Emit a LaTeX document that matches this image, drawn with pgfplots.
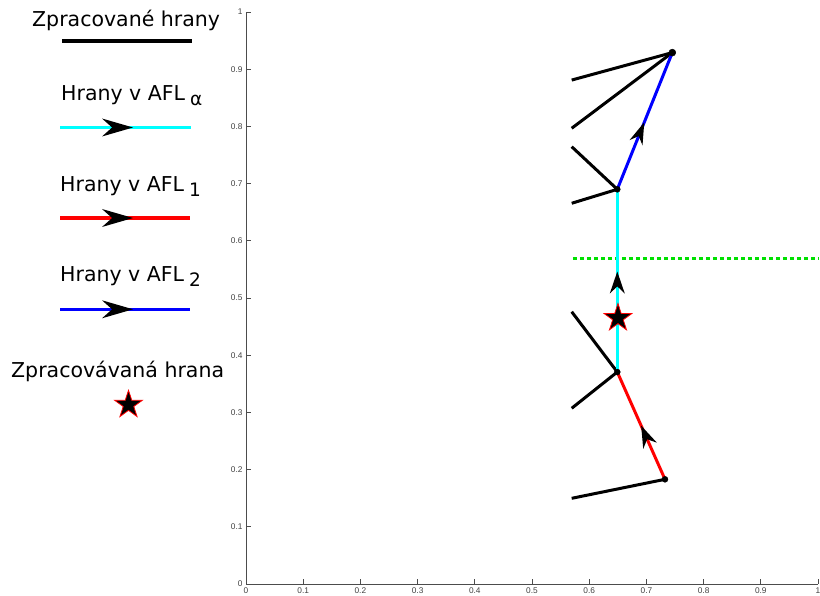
\documentclass[border=0pt]{standalone}
\usepackage{fontspec}
\setmainfont{DejaVu Sans}
\newfontfamily\tickfont{Liberation Sans}
\usepackage{pgfplots}
\pgfplotsset{compat=1.18}
\usetikzlibrary{arrows.meta,decorations.markings}

\definecolor{afla}{rgb}{0,1,1}
\definecolor{sweep}{rgb}{0,0.88,0}

% filled five-pointed star marker
\pgfdeclareplotmark{pentagram}{%
  \pgfpathmoveto{\pgfpointpolar{90}{\pgfplotmarksize}}%
  \pgfpathlineto{\pgfpointpolar{126}{0.382\pgfplotmarksize}}%
  \pgfpathlineto{\pgfpointpolar{162}{\pgfplotmarksize}}%
  \pgfpathlineto{\pgfpointpolar{198}{0.382\pgfplotmarksize}}%
  \pgfpathlineto{\pgfpointpolar{234}{\pgfplotmarksize}}%
  \pgfpathlineto{\pgfpointpolar{270}{0.382\pgfplotmarksize}}%
  \pgfpathlineto{\pgfpointpolar{306}{\pgfplotmarksize}}%
  \pgfpathlineto{\pgfpointpolar{342}{0.382\pgfplotmarksize}}%
  \pgfpathlineto{\pgfpointpolar{18}{\pgfplotmarksize}}%
  \pgfpathlineto{\pgfpointpolar{54}{0.382\pgfplotmarksize}}%
  \pgfpathclose
  \pgfusepathqfillstroke}

\newcommand\legfont{\fontsize{20.5}{24}\selectfont}
\newcommand\sub[1]{\hspace{5pt}\raisebox{-5pt}{\fontsize{18.5}{20}\selectfont #1}}

\tikzset{
  midarrow/.style n args={3}{postaction={decorate,decoration={markings,
      mark=at position #1 with {\arrow{Stealth[black,length=#2,width=#3,line width=0pt]}}}}},
}

\begin{document}
\begin{tikzpicture}
\path[use as bounding box] (0pt,0pt) rectangle (820pt,596pt);

% graph of processed edges
\begin{axis}[
  at={(246pt,12pt)}, anchor=south west,
  scale only axis, width=572pt, height=572pt,
  xmin=0, xmax=1, ymin=0, ymax=1,
  axis lines=left,
  axis line style={-, black!70, line width=0.7pt},
  tick style={black!70, line width=0.7pt},
  tick align=inside, major tick length=5pt,
  xtick={0,0.1,0.2,0.3,0.4,0.5,0.6,0.7,0.8,0.9,1},
  ytick={0,0.1,0.2,0.3,0.4,0.5,0.6,0.7,0.8,0.9,1},
  tick label style={font=\tickfont\fontsize{8.3}{9}\selectfont, text=black!75},
  /pgf/number format/assume math mode=true,
  clip=false,
]
% sweep line
\addplot[sweep, line width=3pt, dash pattern=on 4pt off 3pt]
  coordinates {(0.5716,0.5694) (1.0,0.5694)};

% processed edges
\addplot[black, line width=3pt] coordinates {(0.5694,0.881) (0.7453,0.929)};
\addplot[black, line width=3pt] coordinates {(0.5694,0.7967) (0.7453,0.929)};
\addplot[black, line width=3pt] coordinates {(0.5694,0.7645) (0.6491,0.690)};
\addplot[black, line width=3pt] coordinates {(0.5694,0.6656) (0.6491,0.690)};
\addplot[black, line width=3pt] coordinates {(0.5694,0.476) (0.6491,0.3706)};
\addplot[black, line width=3pt] coordinates {(0.5694,0.3072) (0.6491,0.3706)};
\addplot[black, line width=3pt] coordinates {(0.5694,0.1498) (0.7325,0.183)};

% edges in AFL_1, AFL_alpha, AFL_2
\addplot[red, line width=3pt, midarrow={0.5}{22pt}{15pt}]
  coordinates {(0.7325,0.183) (0.6491,0.3706)};
\addplot[afla, line width=3pt, midarrow={0.55}{22pt}{15pt}]
  coordinates {(0.6491,0.3706) (0.6491,0.690)};
\addplot[blue, line width=3pt, midarrow={0.49}{22pt}{14pt}]
  coordinates {(0.6491,0.690) (0.7453,0.929)};

% vertices
\addplot[only marks, mark=*, mark size=3pt, black]
  coordinates {(0.6491,0.690) (0.6491,0.3706) (0.7325,0.183)};
\addplot[only marks, mark=*, mark size=3.5pt, black]
  coordinates {(0.7453,0.929)};

% edge being processed
\addplot[only marks, mark=pentagram, mark size=14.5pt,
  mark options={fill=black, draw=red, line width=0.8pt}]
  coordinates {(0.6503,0.4649)};
\end{axis}

% key
\begin{axis}[
  at={(0pt,0pt)}, anchor=south west,
  scale only axis, width=820pt, height=596pt,
  xmin=0, xmax=820, ymin=0, ymax=596, y dir=reverse,
  hide axis, clip=false,
]
\node[anchor=base west, inner sep=0pt, font=\legfont] at (axis cs:32,27) {Zpracované hrany};
\addplot[black, line width=3.6pt] coordinates {(62,41) (192,41)};

\node[anchor=base west, inner sep=0pt, font=\legfont] at (axis cs:61,101) {Hrany v AFL\sub{α}};
\addplot[afla, line width=3.3pt, midarrow={73pt}{31pt}{18pt}] coordinates {(60,127.5) (191,127.5)};

\node[anchor=base west, inner sep=0pt, font=\legfont] at (axis cs:60,192) {Hrany v AFL\sub{1}};
\addplot[red, line width=3.3pt, midarrow={73pt}{31pt}{18pt}] coordinates {(60,218) (190,218)};

\node[anchor=base west, inner sep=0pt, font=\legfont] at (axis cs:60,282) {Hrany v AFL\sub{2}};
\addplot[blue, line width=3.3pt, midarrow={73pt}{31pt}{18pt}] coordinates {(60,309.3) (190,309.3)};

\node[anchor=base west, inner sep=0pt, font=\legfont] at (axis cs:11,378) {Zpracovávaná hrana};
\addplot[only marks, mark=pentagram, mark size=14.5pt,
  mark options={fill=black, draw=red, line width=0.8pt}]
  coordinates {(128.5,404.8)};
\end{axis}
\end{tikzpicture}
\end{document}
